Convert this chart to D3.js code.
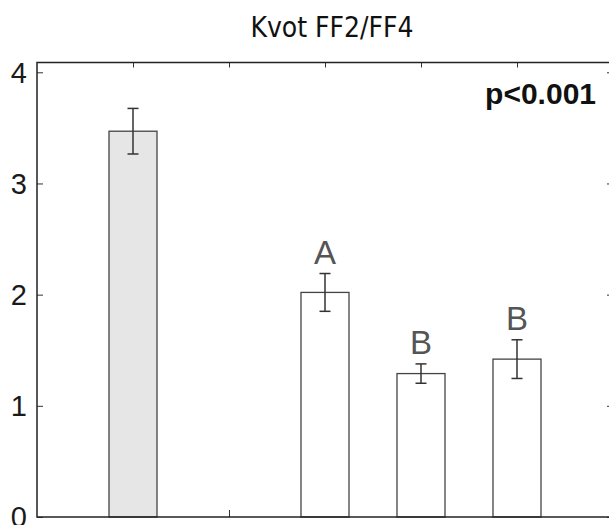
<!DOCTYPE html>
<html lang="en">
<head>
    <meta charset="UTF-8">
    <title>Kvot FF2/FF4</title>
    <style>
        body { margin: 0; background: #fff; }
    </style>
</head>
<script src="https://cdn.jsdelivr.net/npm/d3@7"></script>
<body>
    <svg width="609" height="525"></svg>
</body>

<script>
    // values
    var groups = ["g1", "g2", "g3", "g4", "g5"];
    var means = [3.47, null, 2.02, 1.29, 1.42];
    var errs = [0.205, null, 0.17, 0.087, 0.174];
    var letters = ["", "", "A", "B", "B"];
    var yTicks = [0, 1, 2, 3, 4];

    var svg = d3.select("svg");
    // plot frame (right edge runs just past the window)
    var plotL = 37, plotR = 613, plotT = 62.5, plotB = 517;

    var x = d3.scalePoint()
            .domain(groups)
            .range([plotL, plotR])
            .padding(1);
    var y = d3.scaleLinear()
            .domain([0, 4.088])
            .range([plotB, plotT]);

    var barW = 48;

    // title
    svg.append("text")
            .attr("x", 332)
            .attr("y", 37)
            .attr("text-anchor", "middle")
            .attr("font-family", "DejaVu Sans Condensed, DejaVu Sans, sans-serif")
            .attr("font-size", 28)
            .attr("fill", "#111")
            .text("Kvot FF2/FF4");

    // ticks (inward) on all four sides
    var tickColor = "#333";
    svg.append("g")
            .attr("transform", "translate(" + plotL + ",0)")
            .call(d3.axisRight(y).tickValues(yTicks).tickSize(6).tickFormat(""))
            .call(g => g.select(".domain").remove())
            .selectAll("line").attr("stroke", tickColor);
    svg.append("g")
            .attr("transform", "translate(" + plotR + ",0)")
            .call(d3.axisLeft(y).tickValues(yTicks).tickSize(6).tickFormat(""))
            .call(g => g.select(".domain").remove())
            .selectAll("line").attr("stroke", tickColor);
    svg.append("g")
            .attr("transform", "translate(0," + plotT + ")")
            .call(d3.axisBottom(x).tickSize(5).tickFormat(""))
            .call(g => g.select(".domain").remove())
            .selectAll("line").attr("stroke", tickColor);
    svg.append("g")
            .attr("transform", "translate(0," + plotB + ")")
            .call(d3.axisTop(x).tickSize(7).tickFormat(""))
            .call(g => g.select(".domain").remove())
            .selectAll("line").attr("stroke", tickColor);

    // y labels
    svg.selectAll(".ylab")
            .data(yTicks)
            .join("text")
            .attr("class", "ylab")
            .attr("x", 27)
            .attr("y", d => y(d))
            .attr("dy", "0.36em")
            .attr("text-anchor", "end")
            .attr("font-family", "Liberation Sans, Arial, sans-serif")
            .attr("font-size", 29)
            .attr("fill", "#1a1a1a")
            .text(d => d);

    var data = groups.map(function(g, i) {
        return {g: g, m: means[i], e: errs[i], l: letters[i], i: i};
    }).filter(d => d.m != null);

    // bars
    svg.selectAll(".bar")
            .data(data)
            .join("rect")
            .attr("class", "bar")
            .attr("x", d => x(d.g) - barW / 2)
            .attr("y", d => y(d.m))
            .attr("width", barW)
            .attr("height", d => y(0) - y(d.m))
            .attr("fill", d => d.i == 0 ? "#e6e6e6" : "#fff")
            .attr("stroke", "#444")
            .attr("stroke-width", 1.3);

    // error bars
    var eb = svg.selectAll(".err")
            .data(data)
            .join("g")
            .attr("class", "err")
            .attr("stroke", "#333")
            .attr("stroke-width", 1.5);
    eb.append("line")
            .attr("x1", d => x(d.g)).attr("x2", d => x(d.g))
            .attr("y1", d => y(d.m + d.e)).attr("y2", d => y(d.m - d.e));
    eb.append("line")
            .attr("x1", d => x(d.g) - 5.5).attr("x2", d => x(d.g) + 5.5)
            .attr("y1", d => y(d.m + d.e)).attr("y2", d => y(d.m + d.e));
    eb.append("line")
            .attr("x1", d => x(d.g) - 5.5).attr("x2", d => x(d.g) + 5.5)
            .attr("y1", d => y(d.m - d.e)).attr("y2", d => y(d.m - d.e));

    // group letters
    svg.selectAll(".letter")
            .data(data.filter(d => d.l))
            .join("text")
            .attr("class", "letter")
            .attr("x", d => x(d.g))
            .attr("y", d => y(d.m + d.e) - 10)
            .attr("text-anchor", "middle")
            .attr("font-family", "Liberation Sans, Arial, sans-serif")
            .attr("font-size", 33)
            .attr("fill", "#555")
            .text(d => d.l);

    // frame
    svg.append("rect")
            .attr("x", plotL)
            .attr("y", plotT)
            .attr("width", plotR - plotL)
            .attr("height", plotB - plotT)
            .attr("fill", "none")
            .attr("stroke", "#222")
            .attr("stroke-width", 1.5);

    svg.append("text")
            .attr("x", 596)
            .attr("y", 104)
            .attr("text-anchor", "end")
            .attr("font-family", "Liberation Sans, Arial, sans-serif")
            .attr("font-weight", "bold")
            .attr("font-size", 30)
            .attr("fill", "#111")
            .text("p<0.001");
</script>
</html>
